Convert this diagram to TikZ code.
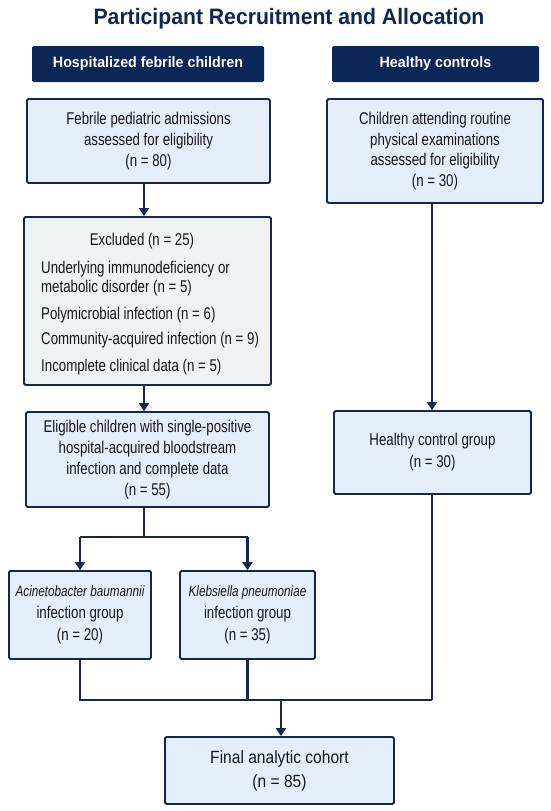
\documentclass[tikz,border=0pt]{standalone}
\usepackage{fontspec}
\setmainfont{Liberation Sans}[FakeStretch=0.78]
\newfontfamily\hfont{Liberation Sans}[FakeStretch=0.95]
\newfontfamily\finalfont{Liberation Sans}[FakeStretch=0.88]
\usetikzlibrary{arrows.meta}
\definecolor{navy}{RGB}{12,39,86}
\definecolor{titlecol}{RGB}{18,38,82}
\definecolor{edge}{RGB}{22,38,78}
\definecolor{boxfill}{RGB}{228,238,250}
\definecolor{exfill}{RGB}{240,241,243}
\definecolor{txt}{RGB}{22,22,26}
\tikzset{
  header/.style={fill=navy, rounded corners=1.5pt, inner sep=0pt, text=white,
    font=\hfont\bfseries\fontsize{15}{18}\selectfont},
  flowbox/.style={draw=edge, line width=1.8pt, fill=boxfill, rounded corners=1.5pt,
    inner sep=0pt, align=center, text=txt, font=\fontsize{17}{20.8}\selectfont},
  exbox/.style={flowbox, fill=exfill},
  extext/.style={inner sep=0pt, text=txt, font=\fontsize{17}{20.8}\selectfont},
  conn/.style={draw=edge, line width=2.2pt},
  arr/.style={conn, -{Triangle[width=10pt,length=8pt]}},
}
\begin{document}
\begin{tikzpicture}[x=1pt,y=-1pt]
\fill[white] (0,0) rectangle (550,811);
\useasboundingbox (0,0) rectangle (550,811);

\node[anchor=base, text=titlecol, inner sep=0pt,
  font=\hfont\bfseries\fontsize{22.3}{26}\selectfont] (title) at (289,24)
  {Participant Recruitment and Allocation};

\node[header, minimum width=232pt, minimum height=36pt] (h1) at (148,64)
  {Hospitalized febrile children};
\node[header, minimum width=207pt, minimum height=36pt] (h2) at (435.5,64)
  {Healthy controls};

\node[flowbox, minimum width=243pt, minimum height=84pt] (b1) at (148.5,141)
  {Febrile pediatric admissions\\assessed for eligibility\\(n = 80)};
\node[flowbox, minimum width=216pt, minimum height=104pt] (r1) at (435,151)
  {Children attending routine\\physical examinations\\assessed for eligibility\\(n = 30)};

\node[exbox, minimum width=247pt, minimum height=168pt] (ex) at (147.5,301) {};
\node[extext, anchor=base] (ex0) at (142,245.5) {Excluded (n = 25)};
\node[extext, anchor=base west] (ex1) at (41,273.5) {Underlying immunodeficiency or};
\node[extext, anchor=base west] (ex2) at (41,292.5) {metabolic disorder (n = 5)};
\node[extext, anchor=base west] (ex3) at (41,319.5) {Polymicrobial infection (n = 6)};
\node[extext, anchor=base west] (ex4) at (41,344.5) {Community-acquired infection (n = 9)};
\node[extext, anchor=base west] (ex5) at (41,371.5) {Incomplete clinical data (n = 5)};

\node[flowbox, minimum width=243pt, minimum height=95pt] (el) at (147.5,459.5)
  {Eligible children with single-positive\\hospital-acquired bloodstream\\infection and complete data\\(n = 55)};
\node[flowbox, minimum width=197pt, minimum height=83pt,
  font=\fontsize{17}{22}\selectfont] (hc) at (432.5,452.5)
  {Healthy control group\\(n = 30)};

\node[flowbox, minimum width=142pt, minimum height=88pt,
  font=\fontsize{17}{22}\selectfont] (ga) at (80,615)
  {{\fontsize{15}{22}\selectfont\itshape Acinetobacter baumannii}\\infection group\\(n = 20)};
\node[flowbox, minimum width=135pt, minimum height=88pt,
  font=\fontsize{17}{22}\selectfont] (gk) at (247.5,615)
  {{\fontsize{15}{22}\selectfont\itshape Klebsiella pneumoniae}\\infection group\\(n = 35)};

\node[flowbox, minimum width=229pt, minimum height=67pt,
  font=\finalfont\fontsize{17.7}{24}\selectfont] (fc) at (279.5,770.5)
  {Final analytic cohort\\(n = 85)};

\coordinate (xl) at (144,0);
\coordinate (xr) at (432,0);
\coordinate (xf) at (281,0);
\coordinate (j1) at (144,537);
\coordinate (j2) at (432,700);

\draw[arr] (b1.south -| xl) -- (ex.north -| xl);
\draw[arr] (ex.south -| xl) -- (el.north -| xl);
\draw[conn] (el.south -| xl) -- (j1);
\draw[conn] (ga.north |- j1) -- (gk.north |- j1);
\draw[arr] (ga.north |- j1) -- (ga.north);
\draw[arr] (gk.north |- j1) -- (gk.north);

\draw[arr] (r1.south -| xr) -- (hc.north -| xr);
\draw[conn] (hc.south -| xr) -- (j2);
\draw[conn] (ga.south) -- (ga.south |- j2) -- (j2);
\draw[conn] (gk.south) -- (gk.south |- j2);
\draw[arr] (j2 -| xf) -- (fc.north -| xf);
\end{tikzpicture}
\end{document}
